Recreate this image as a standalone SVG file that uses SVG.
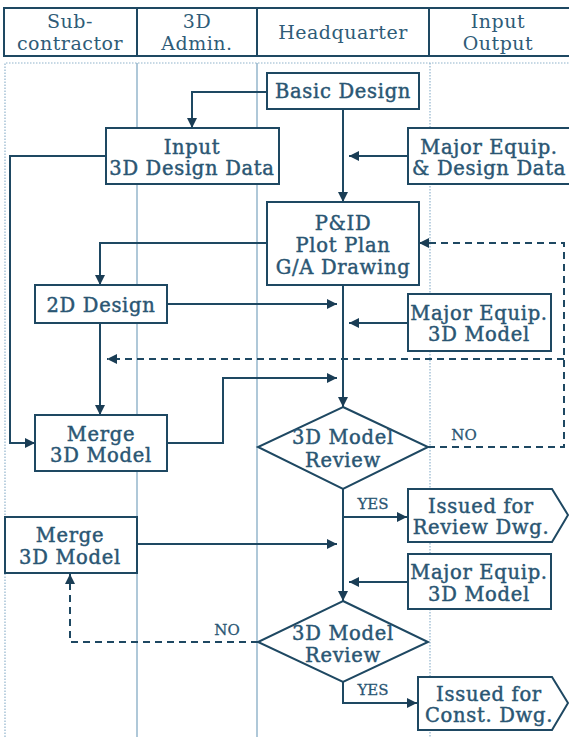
<svg xmlns="http://www.w3.org/2000/svg" width="569" height="737" viewBox="0 0 569 737">
<defs>
<marker id="ah" viewBox="0 0 10 10" markerUnits="userSpaceOnUse" markerWidth="10" markerHeight="10" refX="10" refY="5" orient="auto">
<path d="M0,0 L10,5 L0,10 z" fill="#1a3d55"/>
</marker>
</defs>
<style>
.t{font-family:"DejaVu Serif","Liberation Serif",serif;font-size:19.5px;letter-spacing:0.7px;fill:#2a5673;stroke:#2a5673;stroke-width:0.45;text-anchor:middle;dominant-baseline:central}
.h{font-family:"DejaVu Serif","Liberation Serif",serif;font-size:19px;letter-spacing:0.5px;fill:#2f5c78;text-anchor:middle;dominant-baseline:central}
.s{font-family:"DejaVu Serif","Liberation Serif",serif;font-size:15px;fill:#2a5673;stroke:#2a5673;stroke-width:0.3;text-anchor:middle;dominant-baseline:central}
.b{fill:#fff;stroke:#1e4862;stroke-width:2}
.c{fill:none;stroke:#1e4862;stroke-width:2}
.d{fill:none;stroke:#1e4862;stroke-width:2;stroke-dasharray:7 5}
.col{stroke:#7aa3bf;stroke-width:1.2;fill:none}
.dot{stroke:#8fb3cc;stroke-width:1.2;stroke-dasharray:1.5 1.5;fill:none}
</style>
<rect width="569" height="737" fill="#fff"/>
<g id="header">
<rect x="4" y="8" width="570" height="48" fill="#fff" stroke="#1e4862" stroke-width="2"/>
<line x1="137" y1="8" x2="137" y2="56" stroke="#1e4862" stroke-width="2"/>
<line x1="257" y1="8" x2="257" y2="56" stroke="#1e4862" stroke-width="2"/>
<line x1="429" y1="8" x2="429" y2="56" stroke="#1e4862" stroke-width="2"/>
<text class="h" x="70" y="21">Sub-</text>
<text class="h" x="70" y="43">contractor</text>
<text class="h" x="197" y="21">3D</text>
<text class="h" x="197" y="43">Admin.</text>
<text class="h" x="343" y="32">Headquarter</text>
<text class="h" x="498" y="21">Input</text>
<text class="h" x="498" y="43">Output</text>
</g>
<g id="lanes">
<path class="dot" d="M5,737 V63 H569"/>
<line class="col" x1="137" y1="63" x2="137" y2="737"/>
<line class="col" x1="257" y1="63" x2="257" y2="737"/>
<line class="dot" x1="430" y1="63" x2="430" y2="737"/>
</g>
<g id="connectors">
<path class="c" d="M343,109 V202" marker-end="url(#ah)"/>
<path class="c" d="M343,285 V407" marker-end="url(#ah)"/>
<path class="c" d="M343,489 V601" marker-end="url(#ah)"/>
<path class="c" d="M267,92 H192 V128" marker-end="url(#ah)"/>
<path class="c" d="M408,156 H349" marker-end="url(#ah)"/>
<path class="c" d="M106,156 H10 V443 H35" marker-end="url(#ah)"/>
<path class="c" d="M267,243 H100 V285" marker-end="url(#ah)"/>
<path class="c" d="M167,304 H337" marker-end="url(#ah)"/>
<path class="c" d="M408,323 H349" marker-end="url(#ah)"/>
<path class="c" d="M100,323 V415" marker-end="url(#ah)"/>
<path class="c" d="M167,443 H223 V378 H337" marker-end="url(#ah)"/>
<path class="d" d="M428,447 H564 V243 H419" marker-end="url(#ah)"/>
<path class="d" d="M564,359 H107" marker-end="url(#ah)"/>
<path class="c" d="M343,517 H407" marker-end="url(#ah)"/>
<path class="c" d="M137,544 H337" marker-end="url(#ah)"/>
<path class="c" d="M408,582 H349" marker-end="url(#ah)"/>
<path class="d" d="M258,642 H70 V574" marker-end="url(#ah)"/>
<path class="c" d="M343,682 V703 H417" marker-end="url(#ah)"/>
<text class="s" x="464" y="435">NO</text>
<text class="s" x="373" y="504">YES</text>
<text class="s" x="227" y="630">NO</text>
<text class="s" x="373" y="690">YES</text>
</g>
<g id="basic-design">
<rect class="b" x="267" y="73" width="152" height="36"/>
<text class="t" x="343" y="91">Basic Design</text>
</g>
<g id="input-3d-design-data">
<rect class="b" x="106" y="128" width="173" height="56"/>
<text class="t" x="192" y="147">Input</text>
<text class="t" x="192" y="168">3D Design Data</text>
</g>
<g id="major-equip-design-data">
<rect class="b" x="408" y="128" width="162" height="56"/>
<text class="t" x="489" y="147">Major Equip.</text>
<text class="t" x="489" y="168">&amp; Design Data</text>
</g>
<g id="pid">
<rect class="b" x="267" y="202" width="152" height="83"/>
<text class="t" x="343" y="223">P&amp;ID</text>
<text class="t" x="343" y="245">Plot Plan</text>
<text class="t" x="343" y="267">G/A Drawing</text>
</g>
<g id="design-2d">
<rect class="b" x="35" y="285" width="132" height="38"/>
<text class="t" x="101" y="305">2D Design</text>
</g>
<g id="major-equip-3d-model-1">
<rect class="b" x="408" y="294" width="143" height="57"/>
<text class="t" x="479" y="313">Major Equip.</text>
<text class="t" x="479" y="334">3D Model</text>
</g>
<g id="merge-3d-model-1">
<rect class="b" x="35" y="415" width="132" height="56"/>
<text class="t" x="101" y="434">Merge</text>
<text class="t" x="101" y="455">3D Model</text>
</g>
<g id="review-1">
<polygon class="b" points="343,407 428,447 343,489 258,447"/>
<text class="t" x="343" y="437">3D Model</text>
<text class="t" x="343" y="460">Review</text>
</g>
<g id="issued-review">
<polygon class="b" points="408,489 552,489 568,515 552,542 408,542"/>
<text class="t" x="481" y="506">Issued for</text>
<text class="t" x="481" y="527">Review Dwg.</text>
</g>
<g id="merge-3d-model-2">
<rect class="b" x="5" y="517" width="132" height="56"/>
<text class="t" x="70" y="535">Merge</text>
<text class="t" x="70" y="557">3D Model</text>
</g>
<g id="major-equip-3d-model-2">
<rect class="b" x="408" y="554" width="143" height="55"/>
<text class="t" x="479" y="572">Major Equip.</text>
<text class="t" x="479" y="594">3D Model</text>
</g>
<g id="review-2">
<polygon class="b" points="343,601 428,642 343,682 258,642"/>
<text class="t" x="343" y="633">3D Model</text>
<text class="t" x="343" y="655">Review</text>
</g>
<g id="issued-const">
<polygon class="b" points="418,677 552,677 568,703 552,730 418,730"/>
<text class="t" x="489" y="694">Issued for</text>
<text class="t" x="489" y="715">Const. Dwg.</text>
</g>
</svg>
